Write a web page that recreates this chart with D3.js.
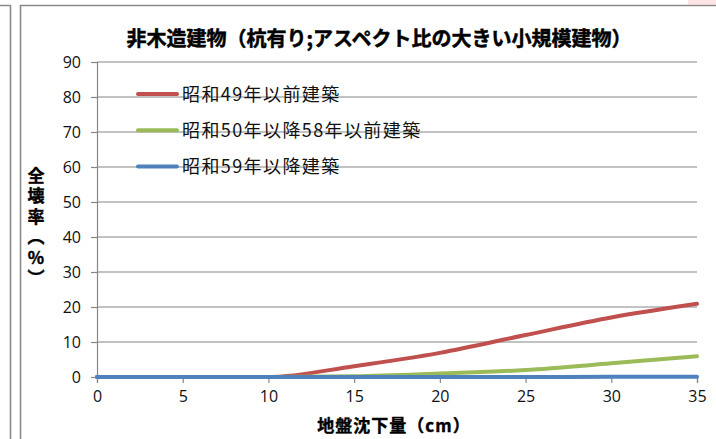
<!DOCTYPE html>
<html>
<head>
<meta charset="utf-8">
<script src="https://cdn.jsdelivr.net/npm/d3@7"></script>
<style>
  body { margin: 0; background: #fff; }
  svg { display: block; }
</style>
</head>
<body>
<svg id="chart" width="716" height="439"></svg>
<script>
// Chart data
const settlement = [0, 5, 10, 15, 20, 25, 30, 35];           // 地盤沈下量 (cm)
const pre1974 = [0, 0, 0, 3.1, 6.9, 12.0, 17.0, 20.9];         // 昭和49年以前建築
const mid1975 = [0, 0, 0, 0.2, 1.0, 2.0, 3.9, 5.9];           // 昭和50年以降58年以前建築
const post1984 = [0, 0, 0, 0, 0, 0, 0.05, 0.1];               // 昭和59年以降建築
const seriesNames = ["昭和49年以前建築", "昭和50年以降58年以前建築", "昭和59年以降建築"];
const seriesColors = ["#C0504D", "#9BBB59", "#4F81BD"];
const xTicks = [0, 5, 10, 15, 20, 25, 30, 35];
const yTicks = [0, 10, 20, 30, 40, 50, 60, 70, 80, 90];

const titleText = "非木造建物（杭有り;アスペクト比の大きい小規模建物）";
const xTitle = "地盤沈下量（cm）";
const yTitle = "全壊率（%）";

const jpFont = "'Noto Sans CJK JP', 'Noto Sans', sans-serif";
const numFont = "'Open Sans', 'Noto Sans', sans-serif";
const gridColor = "#868686";

const svg = d3.select("#chart");

// outer frames (cut-off neighbouring cells)
svg.append("rect").attr("x", 688).attr("y", 0).attr("width", 28).attr("height", 4.5).attr("fill", "#fde4e4");
svg.append("path").attr("d", "M0,5.5H10.5V439").attr("fill", "none").attr("stroke", "#8a8a8a").attr("stroke-width", 1.6);
svg.append("path").attr("d", "M20.5,439V5.5H716").attr("fill", "none").attr("stroke", "#8a8a8a").attr("stroke-width", 1.6);

const x = d3.scaleLinear().domain([0, 35]).range([97, 697]);
const y = d3.scaleLinear().domain([0, 90]).range([377, 62]);

// gridlines
svg.append("g")
  .selectAll("line")
  .data(yTicks.filter(d => d > 0))
  .join("line")
  .attr("x1", x(0)).attr("x2", x(35))
  .attr("y1", d => y(d)).attr("y2", d => y(d))
  .attr("stroke", gridColor).attr("stroke-width", 1.2);

// y axis
const yAxis = svg.append("g")
  .attr("transform", `translate(${x(0)},0)`)
  .call(d3.axisLeft(y).tickValues(yTicks).tickSize(6).tickPadding(10));
yAxis.select(".domain").attr("stroke", gridColor).attr("stroke-width", 1.2);
yAxis.selectAll(".tick line").attr("stroke", gridColor).attr("stroke-width", 1.2);
yAxis.selectAll("text").attr("font-family", numFont).attr("font-size", 16).attr("fill", "#111");

// x axis
const xAxis = svg.append("g")
  .attr("transform", `translate(0,${y(0)})`)
  .call(d3.axisBottom(x).tickValues(xTicks).tickSize(6).tickPadding(8));
xAxis.select(".domain").attr("stroke", gridColor).attr("stroke-width", 1.2);
xAxis.selectAll(".tick line").attr("stroke", gridColor).attr("stroke-width", 1.2);
xAxis.selectAll("text").attr("font-family", numFont).attr("font-size", 16).attr("fill", "#111");

// series lines
const allSeries = [pre1974, mid1975, post1984];
const line = d3.line()
  .x((d, i) => x(settlement[i]))
  .y(d => y(d))
  .curve(d3.curveMonotoneX);

svg.append("g")
  .selectAll("path")
  .data(allSeries)
  .join("path")
  .attr("d", d => line(d))
  .attr("fill", "none")
  .attr("stroke", (d, i) => seriesColors[i])
  .attr("stroke-width", 4)
  .attr("stroke-linecap", "round")
  .attr("stroke-linejoin", "round");

// legend
const legend = svg.append("g").attr("transform", "translate(137,94)");
const item = legend.selectAll("g")
  .data(seriesNames)
  .join("g")
  .attr("transform", (d, i) => `translate(0,${i * 36.3})`);
item.append("line")
  .attr("x1", 1).attr("x2", 40)
  .attr("stroke", (d, i) => seriesColors[i])
  .attr("stroke-width", 4)
  .attr("stroke-linecap", "round");
item.append("text")
  .attr("x", 45)
  .attr("y", 6.5)
  .attr("font-family", jpFont)
  .attr("font-size", 18)
  .attr("letter-spacing", 1.4)
  .attr("fill", "#111")
  .text(d => d);

// title
svg.append("text")
  .attr("x", 379)
  .attr("y", 46)
  .attr("text-anchor", "middle")
  .attr("font-family", jpFont)
  .attr("font-size", 20)
  .attr("font-weight", 700)
  .attr("fill", "#000")
  .attr("stroke", "#000")
  .attr("stroke-width", 0.5)
  .text(titleText);

// x axis title
svg.append("text")
  .attr("x", 394)
  .attr("y", 432)
  .attr("text-anchor", "middle")
  .attr("font-family", jpFont)
  .attr("font-size", 17)
  .attr("font-weight", 700)
  .attr("letter-spacing", 1)
  .attr("fill", "#000")
  .attr("stroke", "#000")
  .attr("stroke-width", 0.4)
  .text(xTitle);

// y axis title (vertical writing)
svg.append("text")
  .attr("x", 36)
  .attr("y", 167)
  .attr("writing-mode", "vertical-rl")
  .style("text-orientation", "upright")
  .attr("font-family", jpFont)
  .attr("font-size", 17)
  .attr("font-weight", 700)
  .attr("letter-spacing", 3.5)
  .attr("fill", "#000")
  .attr("stroke", "#000")
  .attr("stroke-width", 0.4)
  .text(yTitle);
</script>
</body>
</html>
